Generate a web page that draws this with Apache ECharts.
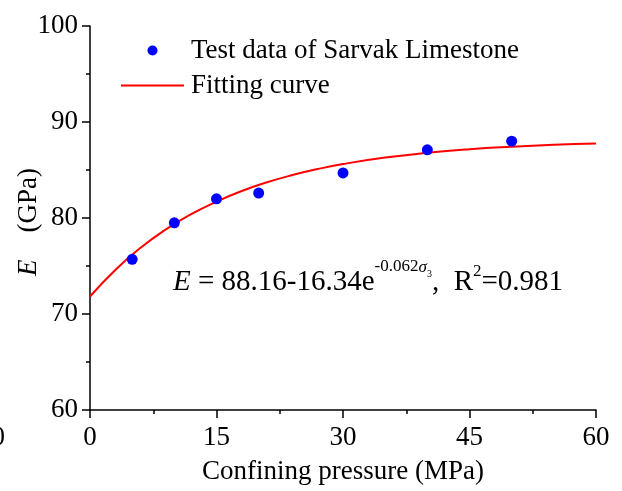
<!DOCTYPE html>
<html>
<head>
<meta charset="utf-8">
<script src="https://cdn.jsdelivr.net/npm/echarts@6/dist/echarts.min.js"></script>
<style>html,body{margin:0;padding:0;background:#fff}#c{width:622px;height:491px}</style>
</head>
<body>
<div id="c"></div>
<script>
// Test data (confining pressure MPa, E GPa)
var testX = [5, 10, 15, 20, 30, 40, 50];
var testE = [75.7, 79.5, 82.0, 82.6, 84.7, 87.1, 88.0];
// Fitting curve
var fitX = [0, 3, 6, 9, 12, 15, 18, 21, 24, 27, 30, 35, 40, 45, 50, 55, 60];
var fitE = [71.82, 74.59, 76.90, 78.81, 80.40, 81.71, 82.81, 83.72, 84.47, 85.10, 85.62, 86.29, 86.79, 87.16, 87.42, 87.62, 87.76];
var xTicks = [0, 15, 30, 45, 60];
var yTicks = [60, 70, 80, 90, 100];
var seriesNames = ['Test data of Sarvak Limestone', 'Fitting curve'];

var FF = 'Liberation Serif, Times New Roman, serif';
function pairs(xs, ys) { return xs.map(function (x, i) { return [x, ys[i]]; }); }

// Equation pieces laid out left to right
var ctx = document.createElement('canvas').getContext('2d');
function tw(t, size, italic) {
  ctx.font = (italic ? 'italic ' : '') + size + 'px "Liberation Serif"';
  return ctx.measureText(t).width;
}
var eqPieces = [
  {t: 'E', s: 29, i: true, y: 282},
  {t: ' = 88.16-16.34e', s: 29, i: false, y: 282},
  {t: '-0.062', s: 17, i: false, y: 267},
  {t: 'σ', s: 17, i: true, y: 268},
  {t: '3', s: 10, i: false, y: 274},
  {t: ',  R', s: 29, i: false, y: 282},
  {t: '2', s: 17, i: false, y: 272},
  {t: '=0.981', s: 29, i: false, y: 282}
];
var eqGraphics = [];
var cx = 173;
eqPieces.forEach(function (p) {
  eqGraphics.push({
    type: 'text', silent: true,
    style: {x: cx, y: p.y, text: p.t, fontFamily: FF, fontSize: p.s, fontStyle: p.i ? 'italic' : 'normal',
      fill: '#000', textAlign: 'left', textVerticalAlign: 'middle'}
  });
  cx += tw(p.t, p.s, p.i);
});
eqGraphics.push({
  type: 'text', silent: true,
  style: {x: 5, y: 438, text: '0', fontFamily: FF, fontSize: 27, fill: '#000', textAlign: 'right', textVerticalAlign: 'middle'}
});

var chart = echarts.init(document.getElementById('c'), null, {renderer: 'canvas'});
chart.setOption({
  animation: false,
  backgroundColor: '#fff',
  grid: {left: 90, right: 26, top: 26, bottom: 81, containLabel: false, outerBoundsMode: 'none'},
  legend: {
    orient: 'vertical', left: 115, top: 32, itemGap: 8,
    itemWidth: 63, itemHeight: 10,
    textStyle: {fontFamily: FF, fontSize: 27, color: '#000', lineHeight: 27, padding: [0, 0, 0, 2]},
    data: [
      {name: seriesNames[0], icon: 'circle', itemStyle: {color: '#0000ff', opacity: 1}},
      {name: seriesNames[1], itemStyle: {opacity: 0}}
    ]
  },
  xAxis: {
    type: 'value', min: xTicks[0], max: xTicks[xTicks.length - 1], interval: 15,
    name: 'Confining pressure (MPa)', nameLocation: 'middle', nameGap: 48, nameMoveOverlap: false,
    nameTextStyle: {fontFamily: FF, fontSize: 27, color: '#000'},
    axisLine: {show: true, onZero: false, lineStyle: {color: '#000', width: 1.5}},
    axisTick: {show: true, inside: false, length: 8, lineStyle: {color: '#000', width: 1.5}},
    minorTick: {show: true, splitNumber: 2, length: 4, lineStyle: {color: '#000', width: 1.5}},
    axisLabel: {fontFamily: FF, fontSize: 27, color: '#000', margin: 14},
    splitLine: {show: false}
  },
  yAxis: {
    type: 'value', min: yTicks[0], max: yTicks[yTicks.length - 1], interval: 10,
    name: '{i|E}    (GPa)', nameLocation: 'middle', nameGap: 48, nameMoveOverlap: false,
    nameTextStyle: {fontFamily: FF, fontSize: 27, color: '#000', padding: [0, 8, 0, 0],
      rich: {i: {fontFamily: FF, fontSize: 27, fontStyle: 'italic', color: '#000'}}},
    axisLine: {show: true, onZero: false, lineStyle: {color: '#000', width: 1.5}},
    axisTick: {show: true, inside: false, length: 8, lineStyle: {color: '#000', width: 1.5}},
    minorTick: {show: true, splitNumber: 2, length: 4, lineStyle: {color: '#000', width: 1.5}},
    axisLabel: {fontFamily: FF, fontSize: 27, color: '#000', margin: 12},
    splitLine: {show: false}
  },
  series: [
    {
      name: seriesNames[0], type: 'scatter', symbol: 'circle', symbolSize: 11,
      itemStyle: {color: '#0000ff', opacity: 1}, z: 3,
      data: pairs(testX, testE)
    },
    {
      name: seriesNames[1], type: 'line', smooth: true, symbol: 'none', showSymbol: false,
      lineStyle: {color: '#ff0000', width: 2}, itemStyle: {color: '#ff0000'}, z: 2,
      data: pairs(fitX, fitE)
    }
  ],
  graphic: eqGraphics
});
</script>
</body>
</html>
